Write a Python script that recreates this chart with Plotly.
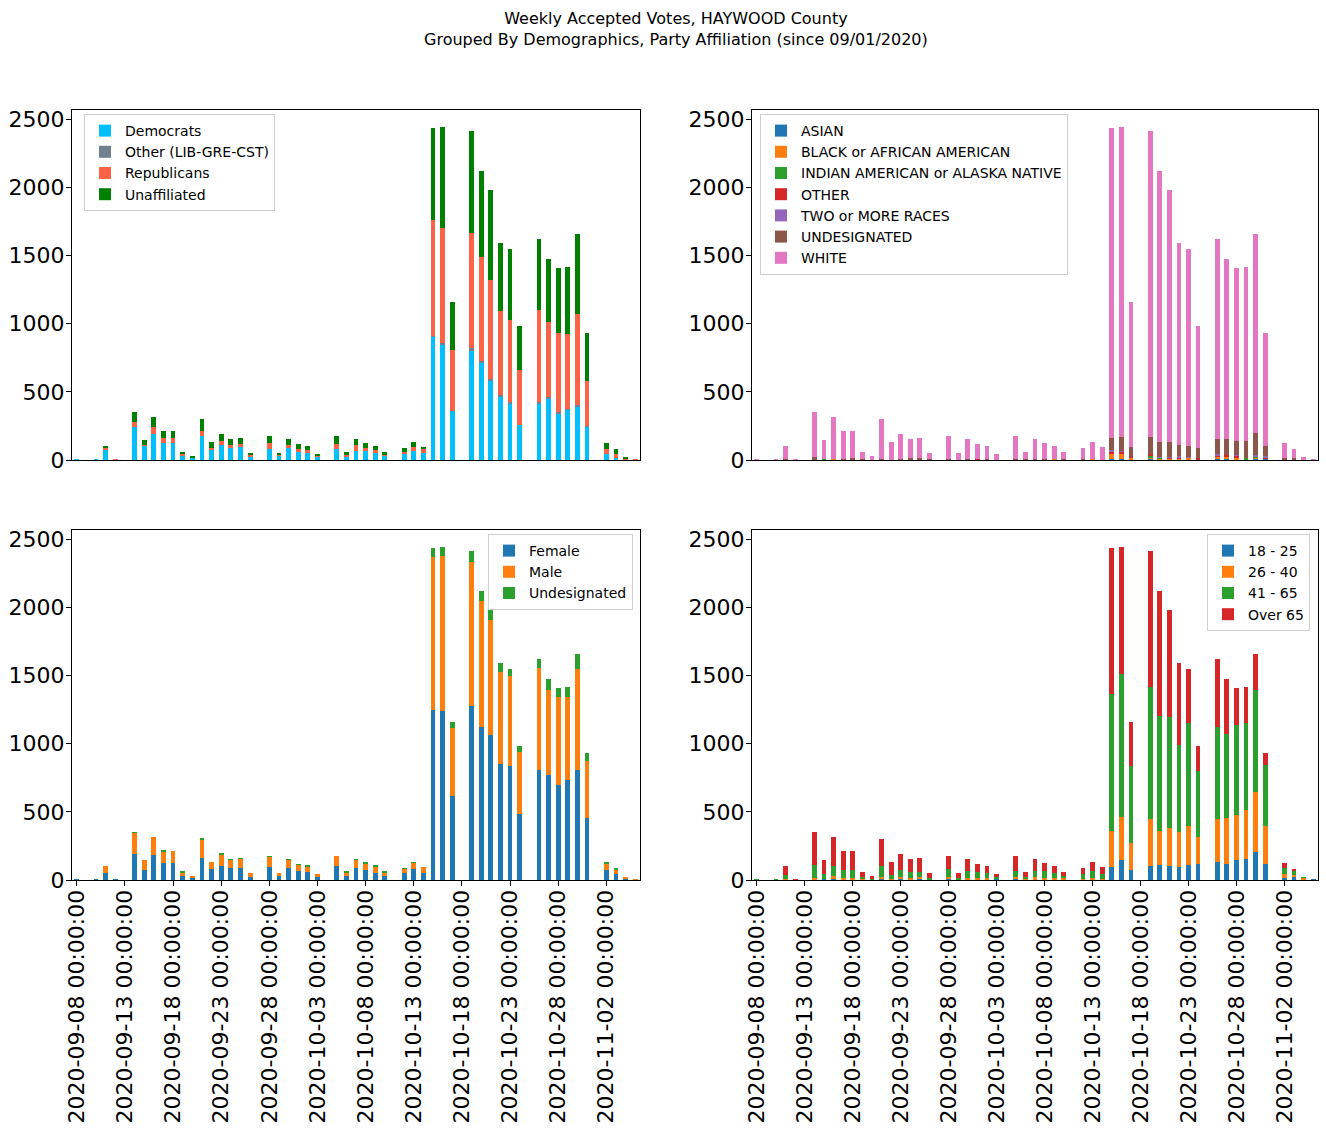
import plotly.graph_objects as go
import pandas as pd

# ---------------- categories ----------------
dates = [d.strftime("%Y-%m-%d 00:00:00") for d in pd.date_range("2020-09-08", "2020-11-05")]
tick_labels = ["2020-09-08 00:00:00", "2020-09-13 00:00:00", "2020-09-18 00:00:00",
               "2020-09-23 00:00:00", "2020-09-28 00:00:00", "2020-10-03 00:00:00",
               "2020-10-08 00:00:00", "2020-10-13 00:00:00", "2020-10-18 00:00:00",
               "2020-10-23 00:00:00", "2020-10-28 00:00:00", "2020-11-02 00:00:00"]
y_ticks = [0, 500, 1000, 1500, 2000, 2500]

# ---------------- party affiliation ----------------
democrats = [7,0,6,73,0,0,242,108,193,125,125,32,20,179,78,108,90,95,20,0,
             78,32,88,61,51,22,0,78,22,66,66,51,32,0,46,66,51,905,844,360,
             0,800,712,582,462,418,257,0,418,448,340,372,389,242,0,44,15,2,0]
other_party = [0,0,0,0,0,0,0,0,0,0,0,0,0,0,0,0,0,0,0,0,
               0,0,0,0,0,0,0,0,0,0,0,0,0,0,0,0,0,7,15,0,
               0,22,15,10,15,7,2,0,7,15,12,2,15,7,0,0,0,0,0]
republicans = [0,0,0,15,6,0,37,5,49,37,37,15,0,34,10,32,20,24,20,0,
               46,7,22,20,22,10,0,39,15,44,22,22,5,0,12,29,29,849,844,448,
               0,844,763,729,616,602,401,0,676,550,580,550,667,331,0,37,29,5,7]
unaffiliated = [0,0,0,15,0,0,73,34,74,51,51,12,9,88,44,51,44,42,14,0,
                52,15,44,36,30,12,0,59,22,44,37,30,22,0,30,37,15,675,741,351,
                0,748,631,660,499,521,323,0,521,462,477,492,587,352,0,44,37,15,0]

# ---------------- race ----------------
asian = [0,0,0,0,0,0,0,0,0,0,0,0,0,0,0,0,0,5,0,0,
         0,0,0,0,0,0,0,0,0,0,0,0,0,0,0,0,0,5,5,2,
         0,5,5,3,5,0,5,0,5,5,0,0,5,5,0,0,0,0,0]
black = [0,0,0,0,0,0,7,0,7,4,0,0,0,0,0,5,0,0,0,0,
         5,0,0,0,0,0,0,5,0,0,0,5,0,0,0,5,0,37,37,15,
         0,15,5,7,7,15,0,0,15,15,15,7,15,0,0,5,0,0,0]
indian = [0,0,0,0,0,0,0,4,0,0,0,0,0,0,0,0,0,0,0,0,
          0,0,0,0,0,0,0,0,0,0,0,0,0,0,0,0,0,0,0,0,
          0,7,5,0,0,0,0,0,0,0,0,7,7,0,0,0,0,0,0]
other_race = [0,0,0,0,0,0,0,0,0,0,0,0,0,0,0,0,4,0,0,0,
              0,0,0,5,0,0,0,0,0,0,0,0,0,0,0,0,0,22,22,7,
              0,15,0,7,7,0,7,0,15,15,15,0,0,15,0,0,0,0,0]
two_more = [0,0,0,0,0,0,0,0,0,0,0,0,0,0,0,0,0,0,0,0,
            0,0,0,0,0,0,0,0,0,0,0,0,0,0,0,0,0,10,5,0,
            0,0,7,7,7,7,0,0,7,0,7,0,7,7,0,0,0,0,0]
undes_race = [0,0,0,7,0,0,12,0,0,7,12,5,0,5,0,5,10,10,5,0,
              5,0,10,0,5,0,0,5,5,7,5,0,5,0,5,0,0,86,98,73,
              0,125,110,110,81,81,73,0,110,117,103,125,161,73,0,7,17,0,0]
white = [7,0,6,96,6,0,333,143,309,202,201,54,29,296,132,181,140,146,49,0,
         166,54,144,112,98,44,0,166,54,147,120,98,54,0,83,127,95,2276,2277,1062,
         0,2247,1989,1847,1485,1445,898,0,1470,1323,1269,1277,1463,832,0,113,64,22,7]

# ---------------- gender ----------------
female = [7,0,6,52,6,0,191,74,184,125,125,30,15,162,81,103,88,88,24,0,
          96,32,88,66,59,22,0,103,29,88,74,52,30,0,52,81,51,1247,1240,616,
          0,1277,1123,1064,851,837,484,0,808,770,697,734,807,455,0,74,45,7,0]
male = [0,0,0,51,0,0,154,73,132,81,88,22,14,132,51,81,59,66,30,0,
        73,22,59,44,37,22,0,73,23,59,44,44,22,0,29,44,44,1123,1138,499,
        0,1056,925,844,675,660,455,0,748,624,646,609,741,418,0,44,29,15,7]
undes_gender = [0,0,0,0,0,0,7,0,0,7,0,7,0,7,0,7,7,7,0,0,
                7,0,7,7,7,0,0,0,7,7,7,7,7,0,7,7,0,66,66,44,
                0,81,73,73,66,51,44,0,66,81,66,73,110,59,0,7,7,0,0]

# ---------------- age ----------------
age_18_25 = [0,0,0,0,0,0,0,7,7,7,0,0,0,7,0,7,7,7,0,0,
             7,0,0,7,7,7,0,7,0,0,7,0,7,0,0,0,0,95,147,73,
             0,103,110,103,95,110,117,0,132,117,147,154,205,117,0,15,22,0,7]
age_26_40 = [0,0,0,7,0,0,15,0,22,7,15,7,0,15,7,15,7,15,7,0,
             15,7,15,7,7,0,0,15,7,22,7,15,7,0,7,15,7,264,316,198,
             0,345,249,279,257,286,198,0,316,338,330,360,440,279,0,29,15,15,0]
age_41_65 = [7,0,6,29,0,0,95,37,74,60,59,15,7,81,30,51,44,37,7,0,
             59,7,51,44,37,15,0,44,15,44,51,37,15,0,37,51,37,1006,1049,565,
             0,969,844,815,638,756,484,0,675,616,660,638,748,448,0,44,29,7,0]
age_over_65 = [0,0,0,67,6,0,242,103,213,139,139,37,22,198,95,118,96,102,40,0,
               95,40,88,59,52,22,0,110,37,88,60,51,30,0,44,66,51,1071,932,323,
               0,997,918,784,602,396,184,0,499,404,272,264,265,88,0,37,15,0,0]

# ---------------- figure ----------------
W, H = 1326, 1137
FONT = "DejaVu Sans"

panels = [
    ("x", "y", "legend", [("Democrats", democrats, "#00BFFF"),
                          ("Other (LIB-GRE-CST)", other_party, "#708090"),
                          ("Republicans", republicans, "#FF6347"),
                          ("Unaffiliated", unaffiliated, "#008000")]),
    ("x2", "y2", "legend2", [("ASIAN", asian, "#1f77b4"),
                             ("BLACK or AFRICAN AMERICAN", black, "#ff7f0e"),
                             ("INDIAN AMERICAN or ALASKA NATIVE", indian, "#2ca02c"),
                             ("OTHER", other_race, "#d62728"),
                             ("TWO or MORE RACES", two_more, "#9467bd"),
                             ("UNDESIGNATED", undes_race, "#8c564b"),
                             ("WHITE", white, "#e377c2")]),
    ("x3", "y3", "legend3", [("Female", female, "#1f77b4"),
                             ("Male", male, "#ff7f0e"),
                             ("Undesignated", undes_gender, "#2ca02c")]),
    ("x4", "y4", "legend4", [("18 - 25", age_18_25, "#1f77b4"),
                             ("26 - 40", age_26_40, "#ff7f0e"),
                             ("41 - 65", age_41_65, "#2ca02c"),
                             ("Over 65", age_over_65, "#d62728")]),
]

fig = go.Figure()
for xa, ya, lg, series in panels:
    for name, vals, col in series:
        fig.add_trace(go.Bar(x=dates, y=vals, name=name, marker_color=col,
                             marker_line_width=0, xaxis=xa, yaxis=ya, legend=lg))

def px_x(p):
    return p / W

def px_y(p):
    return 1 - p / H

left_dom = [px_x(72), px_x(640)]
right_dom = [px_x(752), px_x(1318)]
top_dom = [px_y(460), px_y(110)]
bot_dom = [px_y(880), px_y(530)]

xcommon = dict(type="category", range=[-0.5, len(dates) - 0.5], showline=True,
               mirror=True, linecolor="black", linewidth=1, showgrid=False,
               zeroline=False, automargin=False)
ycommon = dict(range=[0, 2567], tickmode="array", tickvals=y_ticks, ticks="outside",
               ticklen=5, tickwidth=1, tickcolor="black", showline=True, mirror=True,
               linecolor="black", linewidth=1, showgrid=False, zeroline=False,
               automargin=False, ticklabelstandoff=-3,
               tickfont=dict(family=FONT, size=22, color="black"))
xtop = dict(xcommon, showticklabels=False, ticks="")
xbot = dict(xcommon, tickmode="array", tickvals=tick_labels, ticktext=tick_labels,
            ticks="outside", ticklen=5, tickwidth=1, tickcolor="black", tickangle=-90,
            ticklabelstandoff=-5,
            tickfont=dict(family=FONT, size=22, color="black"))

legend_common = dict(bgcolor="rgba(255,255,255,0.8)", bordercolor="#d0d0d0", borderwidth=1,
                     font=dict(family=FONT, size=14, color="black"), traceorder="normal",
                     itemsizing="constant", tracegroupgap=0)

fig.update_layout(
    template="none",
    width=W, height=H, autosize=False,
    margin=dict(l=0, r=0, t=0, b=0, pad=0, autoexpand=False),
    paper_bgcolor="white", plot_bgcolor="white",
    barmode="stack", bargap=0.5,
    font=dict(family=FONT, color="black"),
    showlegend=True,
    xaxis=dict(xtop, domain=left_dom, anchor="y"),
    yaxis=dict(ycommon, domain=top_dom, anchor="x"),
    xaxis2=dict(xtop, domain=right_dom, anchor="y2"),
    yaxis2=dict(ycommon, domain=top_dom, anchor="x2"),
    xaxis3=dict(xbot, domain=left_dom, anchor="y3"),
    yaxis3=dict(ycommon, domain=bot_dom, anchor="x3"),
    xaxis4=dict(xbot, domain=right_dom, anchor="y4"),
    yaxis4=dict(ycommon, domain=bot_dom, anchor="x4"),
    legend=dict(legend_common, x=px_x(84), y=px_y(114), xanchor="left", yanchor="top"),
    legend2=dict(legend_common, x=px_x(760), y=px_y(114), xanchor="left", yanchor="top"),
    legend3=dict(legend_common, x=px_x(633), y=px_y(534), xanchor="right", yanchor="top"),
    legend4=dict(legend_common, x=px_x(1310), y=px_y(534), xanchor="right", yanchor="top"),
    annotations=[dict(text="Weekly Accepted Votes, HAYWOOD County<br>"
                           "Grouped By Demographics, Party Affiliation (since 09/01/2020)",
                      x=px_x(676), y=px_y(7), xref="paper", yref="paper",
                      xanchor="center", yanchor="top", showarrow=False,
                      font=dict(family=FONT, size=16, color="black"))],
)

fig.write_html("out.html")
